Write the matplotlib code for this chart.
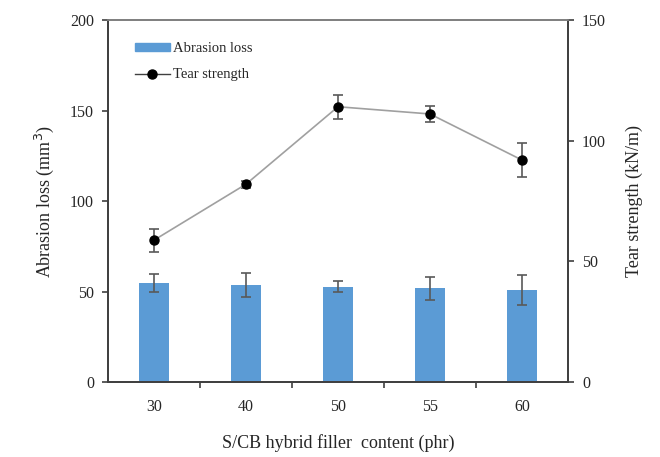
import matplotlib.pyplot as plt
from matplotlib.lines import Line2D
from matplotlib.patches import Patch
import numpy as np

# Datos
contenido = ["30", "40", "50", "55", "60"]
abrasion = [54.5, 53.6, 52.7, 51.8, 50.8]
abrasion_err = [5.0, 6.5, 3.2, 6.5, 8.3]
desgarro = [58.8, 82.0, 114.1, 111.1, 92.0]
desgarro_err = [4.8, 1.5, 5.0, 3.5, 7.0]

plt.rcParams['font.family'] = ['Liberation Serif', 'DejaVu Serif']
gris = '#404040'
texto = '#262626'

fig = plt.figure(figsize=(6.6, 4.57), dpi=100)
ax = fig.add_axes([0.1636, 0.164, 0.697, 0.792])
ax2 = ax.twinx()

x = np.arange(len(contenido))
ax.bar(x, abrasion, width=0.33, color='#5B9BD5', zorder=2)
ax.errorbar(x, abrasion, yerr=abrasion_err, fmt='none', ecolor='#595959',
            elinewidth=1.2, capsize=3.5, capthick=1.2, zorder=3)

ax2.errorbar(x, desgarro, yerr=desgarro_err, color='#A0A0A0', lw=1.2,
             marker='o', markersize=6.5, mfc='black', mec='black',
             ecolor='#595959', elinewidth=1.2, capsize=3.5, capthick=1.2)

ax.set_xlim(-0.5, 4.5)
ax.set_ylim(0, 200)
ax2.set_ylim(0, 150)
ax.set_yticks([0, 50, 100, 150, 200])
ax2.set_yticks([0, 50, 100, 150])

ax.set_xticks(x)
ax.set_xticklabels(contenido)
ax.set_xticks([0.5, 1.5, 2.5, 3.5], minor=True)
ax.tick_params(axis='x', which='major', length=0, pad=12, labelsize=11.5, labelcolor=texto)
ax.tick_params(axis='x', which='minor', length=4, width=1.2, color=gris)
ax.tick_params(axis='y', length=4, width=1.2, color=gris, labelsize=11.5, pad=6, labelcolor=texto)
ax2.tick_params(axis='y', length=4, width=1.2, color=gris, labelsize=11.5, pad=6, labelcolor=texto)

for a in (ax, ax2):
    for s in a.spines.values():
        s.set_color(gris)
        s.set_linewidth(1.3)
ax.spines['top'].set_color('#808080')
ax2.spines['top'].set_color('#808080')

ax.set_ylabel("Abrasion loss (mm$^3$)", fontsize=13, labelpad=10, color=texto)
ax2.set_ylabel("Tear strength (kN/m)", fontsize=13, labelpad=14, color=texto)
ax.set_xlabel("S/CB hybrid filler  content (phr)", fontsize=13, labelpad=14, color=texto)

# Leyenda con manijas simples
manijas = [Patch(color='#5B9BD5'),
           Line2D([], [], color='#404040', lw=1.0, marker='o', markersize=6.5,
                  mfc='black', mec='black')]
ax2.legend(manijas, ['Abrasion loss', 'Tear strength'], loc='upper left',
           bbox_to_anchor=(0.03, 0.975), frameon=False, fontsize=10.5,
           handlelength=2.4, handleheight=0.5, handletextpad=0.2,
           labelspacing=0.9, labelcolor=texto)

fig.savefig("out.png", dpi=100)
